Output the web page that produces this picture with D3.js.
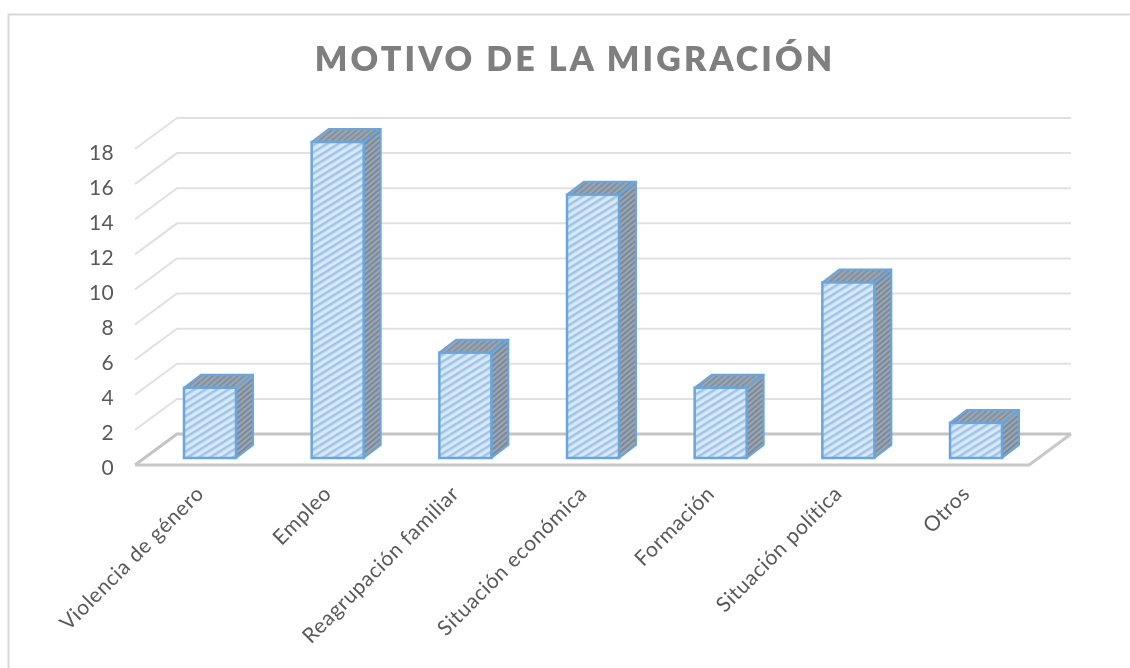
<!DOCTYPE html>
<html>
<head>
<meta charset="utf-8">
<script src="https://cdn.jsdelivr.net/npm/d3@7"></script>
<style>
html, body { margin: 0; padding: 0; background: #fff; overflow: hidden; }
svg { filter: blur(0.45px); }
text { font-family: Lato, "Open Sans", sans-serif; }
.title { font-size: 34px; font-weight: 800; fill: #7f7f7f; letter-spacing: 3.1px; text-anchor: middle; }
.tick text { font-size: 21px; fill: #595959; letter-spacing: 0.3px; }
.cat { font-size: 21px; fill: #595959; letter-spacing: 0.6px; text-anchor: end; }
</style>
</head>
<body>
<svg id="chart" width="1130" height="668"></svg>
<script>
var categories = ["Violencia de género", "Empleo", "Reagrupación familiar", "Situación económica", "Formación", "Situación política", "Otros"];
var values = [4, 18, 6, 15, 4, 10, 2];
var yTicks = [0, 2, 4, 6, 8, 10, 12, 14, 16, 18];

var width = 1130, height = 668;
var depthX = 42, depthY = 31;      // floor depth
var barDX = 17, barDY = 13;        // bar depth

var svg = d3.select("#chart");

// patterns
var defs = svg.append("defs");
function hatch(id, bg, fg, size, sw, angle) {
  var p = defs.append("pattern")
    .attr("id", id)
    .attr("width", size).attr("height", size)
    .attr("patternUnits", "userSpaceOnUse")
    .attr("patternTransform", "rotate(" + angle + ")");
  p.append("rect").attr("width", size).attr("height", size).attr("fill", bg);
  p.append("rect").attr("width", sw).attr("height", size).attr("fill", fg);
}
hatch("front", "#d9e8f7", "#9fc5e9", 6, 2.6, 58);
hatch("side", "#a2a5a8", "#6f88a3", 4, 1.8, 50);
hatch("top", "#a2a5a8", "#7690ab", 4, 1.8, 50);

// outer frame, open towards the right and bottom
svg.append("path")
  .attr("d", "M8.5," + height + "V14.5H" + width)
  .attr("fill", "none").attr("stroke", "#d9d9d9").attr("stroke-width", 2);

svg.append("text").attr("class", "title")
  .attr("x", 575).attr("y", 71)
  .text("MOTIVO DE LA MIGRACIÓN");

// scales
var x = d3.scalePoint().domain(categories).range([210, 976]);
var barW = 52;
var yWall = d3.scaleLinear().domain([0, 18]).range([434, 118]);
var yBar = d3.scaleLinear().domain([0, 18]).range([458, 142]);
var wallL = 177, wallR = 1071;

// gridlines on back and side wall
var grid = svg.append("g").attr("fill", "none");
grid.selectAll("path").data(yTicks).enter().append("path")
  .attr("d", function(d) {
    return "M" + (wallL - depthX) + "," + (yWall(d) + depthY) + "L" + wallL + "," + yWall(d) + "H" + wallR;
  })
  .attr("stroke", function(d) { return d === 0 ? "#c4c4c4" : "#e1e1e1"; })
  .attr("stroke-width", function(d) { return d === 0 ? 3 : 2; });

// floor front and right edge
svg.append("path")
  .attr("d", "M" + (wallL - depthX) + "," + (yWall(0) + depthY) + "H" + (wallR - depthX) + "L" + wallR + "," + yWall(0))
  .attr("fill", "none").attr("stroke", "#c8c8c8").attr("stroke-width", 3);

// value axis
var axis = d3.axisLeft(d3.scaleLinear().domain([0, 18]).range([468, 153]))
  .tickValues(yTicks).tickSize(0).tickPadding(0);
var axisG = svg.append("g").attr("transform", "translate(114,0)").call(axis);
axisG.select(".domain").remove();

// bars
var bars = svg.append("g").selectAll("g").data(values).enter().append("g");
var stroke = "#6aa6dd";

bars.append("path")
  .attr("fill", "url(#side)").attr("stroke", stroke).attr("stroke-width", 2).attr("stroke-linejoin", "round")
  .attr("d", function(d, i) {
    var r = x(categories[i]) + barW / 2;
    return "M" + r + "," + yBar(d) + "l" + barDX + "," + (-barDY) + "V" + (yBar(0) - barDY) + "l" + (-barDX) + "," + barDY + "Z";
  });
bars.append("path")
  .attr("fill", "url(#top)").attr("stroke", stroke).attr("stroke-width", 2).attr("stroke-linejoin", "round")
  .attr("d", function(d, i) {
    var l = x(categories[i]) - barW / 2;
    return "M" + l + "," + yBar(d) + "l" + barDX + "," + (-barDY) + "h" + barW + "l" + (-barDX) + "," + barDY + "Z";
  });
bars.append("rect")
  .attr("fill", "url(#front)").attr("stroke", stroke).attr("stroke-width", 2.5)
  .attr("x", function(d, i) { return x(categories[i]) - barW / 2; })
  .attr("y", function(d) { return yBar(d); })
  .attr("width", barW)
  .attr("height", function(d) { return yBar(0) - yBar(d); });

// category labels
svg.append("g").selectAll("text").data(categories).enter().append("text")
  .attr("class", "cat")
  .attr("transform", function(d) { return "translate(" + (x(d) - 5) + ",495) rotate(-45)"; })
  .text(function(d) { return d; });
</script>
</body>
</html>
